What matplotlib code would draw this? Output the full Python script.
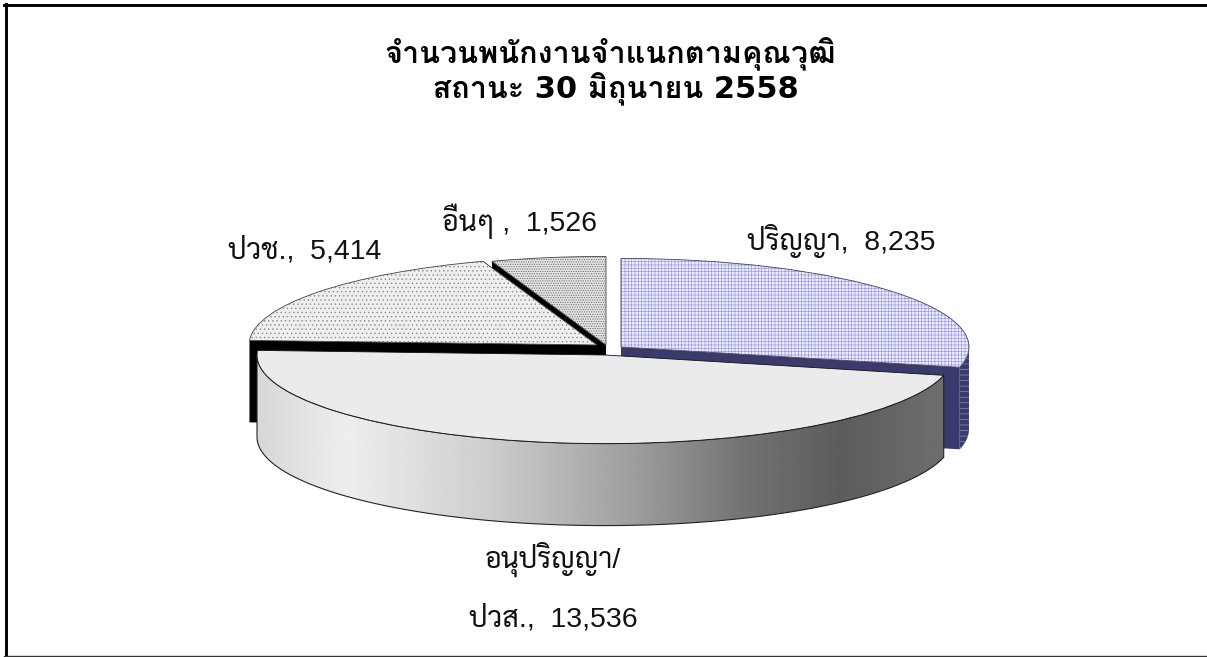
import matplotlib
matplotlib.use('Agg')
import matplotlib.pyplot as plt
import numpy as np
from matplotlib.lines import Line2D
from matplotlib.patches import Polygon, Wedge

categories = ['ปริญญา', 'อนุปริญญา/\nปวส.', 'ปวช.', 'อื่นๆ ']
values = [8235, 13536, 5414, 1526]
title_lines = ['จำนวนพนักงานจำแนกตามคุณวุฒิ', ' สถานะ 30 มิถุนายน 2558']

W, H = 1207, 657
BASE_X, BASE_Y = 601, 350   # pie centre in pixels
RX, RY = 348, 88.6          # ellipse radii in pixels
DEPTH = 82 / RY             # wall height in data units

# slice offsets from the pie centre, pixels
offsets = [(20, -3), (4, 5), (-4, -5), (5, -5)]
top_colors = ['#eeeefa', '#ebebeb', '#efefef', '#e4e4e4']
hatches = ['+++++', None, '....', '.......']
hatch_colors = ['#9a9af0', '#000000', '#8c8c8c', '#666666']
wall_colors = ['#3a3a6c', '#000000', '#000000', '#000000']
label_px = [(841, 241), (553, 587), (305, 251), (519, 221)]

plt.rcParams['hatch.linewidth'] = 0.5
THAI = ['Liberation Sans', 'Sarabun']
TITLE = ['DejaVu Sans', 'Loma']

fig = plt.figure(figsize=(W / 100, H / 100), dpi=100)
ax = fig.add_axes([0, 0, 1, 1])

wedges, _ = ax.pie(values, startangle=90, counterclock=False, radius=1,
                   wedgeprops={'linewidth': 0.6})
ax.set_aspect('auto')
ax.set_xlim((0 - BASE_X) / RX, (W - BASE_X) / RX)
ax.set_ylim((BASE_Y - H) / RY, BASE_Y / RY)
ax.axis('off')


def arc_points(cx, cy, t1, t2, n=80):
    t = np.radians(np.linspace(t1, t2, n))
    return np.column_stack([cx + np.cos(t), cy + np.sin(t)])


def wall_polygon(cx, cy, t1, t2):
    top = arc_points(cx, cy, t1, t2)
    bottom = top[::-1] - [0, DEPTH]
    return np.vstack([top, bottom])


# draw back to front: others, vocational, bachelor, diploma
order = [3, 2, 0, 1]
for z, i in enumerate(order):
    w = wedges[i]
    cx, cy = offsets[i][0] / RX, -offsets[i][1] / RY
    base_z = 2 + z * 4
    t1, t2 = w.theta1, w.theta2

    # radial walls, only the faces turned to the viewer show
    if i != 1:
        for t in (t1, t2):
            rim = arc_points(cx, cy, t, t, 1)[0]
            pts = [(cx, cy), rim, rim - [0, DEPTH], (cx, cy - DEPTH)]
            ax.add_patch(Polygon(pts, closed=True, facecolor=wall_colors[i],
                                 edgecolor='none', zorder=base_z))

    # outer wall, front half of the ellipse
    a1 = max(t1, -180)
    a2 = min(t2, 0)
    if a2 > a1:
        poly = wall_polygon(cx, cy, a1, a2)
        if i == 1:
            # grey gradient along the wall
            patch = Polygon(poly, closed=True, facecolor='none',
                            edgecolor='#222222', linewidth=0.8, zorder=base_z + 2)
            ax.add_patch(patch)
            stops_x = [0.0, 0.13, 0.34, 0.54, 0.71, 0.85, 1.0]
            stops_v = [215, 238, 205, 160, 115, 92, 110]
            grad = np.interp(np.linspace(0, 1, 512), stops_x, stops_v)[None, :]
            xs = poly[:, 0]
            im = ax.imshow(grad, cmap='gray', vmin=0, vmax=255, aspect='auto',
                           extent=(xs.min(), xs.max(), poly[:, 1].min(), poly[:, 1].max()),
                           zorder=base_z + 1)
            im.set_clip_path(patch)
        elif i == 0:
            ax.add_patch(Polygon(poly, closed=True, facecolor=wall_colors[i],
                                 edgecolor='#8f8fb5', hatch='---', linewidth=0,
                                 zorder=base_z + 1))
        else:
            ax.add_patch(Polygon(poly, closed=True, facecolor=wall_colors[i],
                                 edgecolor='none', zorder=base_z + 1))

    # top face
    w.set_center((cx, cy))
    w.set_facecolor(top_colors[i])
    if hatches[i]:
        w.set_hatch(hatches[i])
        w.set_edgecolor(hatch_colors[i])
        w.set_linewidth(0)
        ax.add_patch(Wedge((cx, cy), 1, t1, t2, fill=False, edgecolor='#444444',
                           linewidth=0.6, zorder=base_z + 4))
    else:
        w.set_edgecolor('#111111')
    w.set_zorder(base_z + 3)

# frame: top and left thick, thin bottom, none on the right
frame_top = Line2D([4 / W, 1], [1 - 4.7 / H] * 2, color='black', linewidth=2.1,
                   transform=fig.transFigure)
frame_left = Line2D([5.7 / W] * 2, [0, 1 - 3.5 / H], color='black', linewidth=2.1,
                    transform=fig.transFigure)
frame_bottom = Line2D([4 / W, 1], [1 - 656.4 / H] * 2, color='#333333', linewidth=1.0,
                      transform=fig.transFigure)
fig.add_artist(frame_top)
fig.add_artist(frame_left)
fig.add_artist(frame_bottom)

fig.text(610.5 / W, 1 - 72 / H, '\n'.join(title_lines), family=TITLE, fontweight='bold',
         fontsize=22, ha='center', va='center', linespacing=1.05)

for cat, val, (px, py) in zip(categories, values, label_px):
    ls = 2.3 if '\n' in cat else 1.2
    fig.text(px / W, 1 - py / H, f'{cat},  {val:,}', family=THAI, fontsize=20.5,
             ha='center', va='center', linespacing=ls, color='#111111')

fig.savefig('out.png', dpi=100)
